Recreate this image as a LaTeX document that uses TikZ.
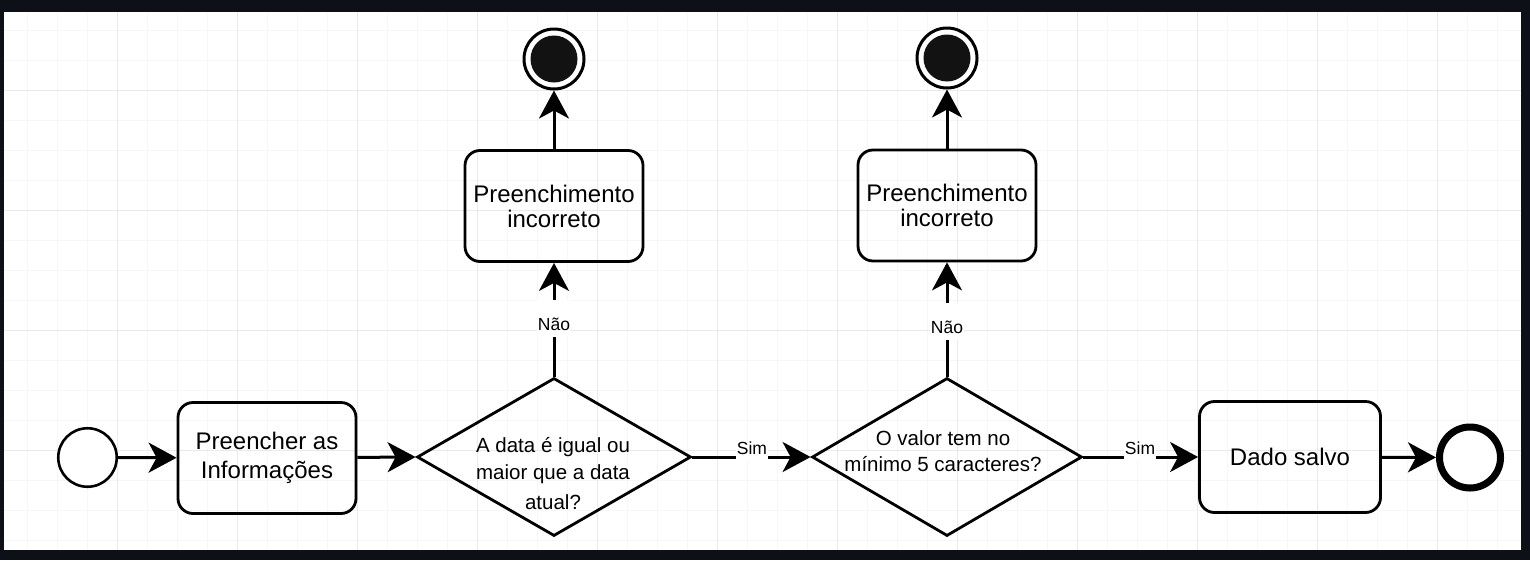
\documentclass[tikz,border=0pt]{standalone}
\usepackage{fontspec}
\setmainfont{Liberation Sans}
\usetikzlibrary{arrows.meta,shapes.geometric}
\definecolor{framecol}{HTML}{0D1117}
\definecolor{gridmin}{HTML}{F7F7F7}
\definecolor{gridmaj}{HTML}{EAEAEA}
\definecolor{termfill}{HTML}{121212}
\begin{document}
\begin{tikzpicture}[x=1pt,y=-1pt,
  box/.style={draw, line width=2.8pt, rounded corners=15pt, minimum width=178pt, minimum height=111pt, inner sep=0pt, align=center, font=\fontsize{24}{29}\selectfont},
  dec/.style={draw, diamond, line width=2.8pt, minimum height=158pt, inner sep=0pt},
  dectext/.style={align=center, inner sep=0pt},
  startev/.style={draw, circle, line width=2.6pt, minimum size=58.5pt, inner sep=0pt, fill=white},
  endev/.style={draw, circle, line width=7pt, minimum size=61pt, inner sep=0pt, fill=white},
  termring/.style={draw, circle, line width=3pt, minimum size=60pt, inner sep=0pt, fill=white},
  termdot/.style={circle, fill=termfill, minimum size=47pt, inner sep=0pt},
  arr/.style={draw, line width=3pt, -{Stealth[length=28pt,width=30pt,inset=8pt]}},
  lbl/.style={fill=white, font=\fontsize{17.5}{20}\selectfont, inner xsep=1pt, inner ysep=0pt, anchor=base},
]
% frame and background
\fill[framecol] (0,0) rectangle (1530,560);
\fill[white] (4,12) rectangle (1521,550);
\begin{scope}
\clip (4,12) rectangle (1521,550);
\foreach \x in {27,57,...,1520} \draw[gridmin, line width=1pt] (\x,12) -- (\x,550);
\foreach \y in {30,60,...,549} \draw[gridmin, line width=1pt] (4,\y) -- (1521,\y);
\foreach \x in {117,237,...,1520} \draw[gridmaj, line width=1pt] (\x,12) -- (\x,550);
\foreach \y in {90,210,...,549} \draw[gridmaj, line width=1pt] (4,\y) -- (1521,\y);
\end{scope}

% nodes
\node[startev] (start) at (87.5,457.5) {};
\node[box] (fill) at (267,458) {Preencher as\\Informações};
\node[dec, minimum width=274pt] (d1) at (554,457) {};
\node[dectext, font=\fontsize{20.5}{27}\selectfont] (d1t) at (553,474) {A data é igual ou\\maior que a data\\[3pt]atual?};
\node[dec, minimum width=270pt] (d2) at (947,457) {};
\node[dectext, font=\fontsize{20.5}{26}\selectfont] (d2t) at (943,451) {O valor tem no\\mínimo 5 caracteres?};
\node[box, minimum width=181pt, font=\fontsize{24}{25}\selectfont] (saved) at (1290,457) {Dado salvo};
\node[endev] (endc) at (1470,457.5) {};
\node[box, font=\fontsize{24}{25}\selectfont] (err1) at (554,206) {Preenchimento\\incorreto};
\node[box, font=\fontsize{24}{25}\selectfont] (err2) at (947,205.5) {Preenchimento\\incorreto};
\node[termring] (t1) at (554,59) {};
\node[termdot] (t1d) at (t1.center) {};
\node[termring] (t2) at (947,58) {};
\node[termdot] (t2d) at (t2.center) {};

% connectors
\draw[arr] (start) -- (fill);
\draw[arr] (fill) -- (d1.west);
\draw[arr] (d1.east) -- (d2.west);
\draw[arr] (d2.east) -- (saved);
\draw[arr] (saved) -- (endc);
\draw[arr] (d1.north) -- (err1.south);
\draw[arr] (err1.north) -- (t1.south);
\draw[arr] (d2.north) -- (err2.south);
\draw[arr] (err2.north) -- (t2.south);

% labels
\node[lbl, text height=14pt, text depth=6pt] (sim1) at (752,454) {Sim};
\node[lbl, text height=14pt, text depth=6pt] (sim2) at (1140,454) {Sim};
\node[lbl, text height=30pt, text depth=7pt] (nao1) at (554,330) {Não};
\node[lbl, text height=30pt, text depth=7pt] (nao2) at (947,333) {Não};
\end{tikzpicture}
\end{document}
